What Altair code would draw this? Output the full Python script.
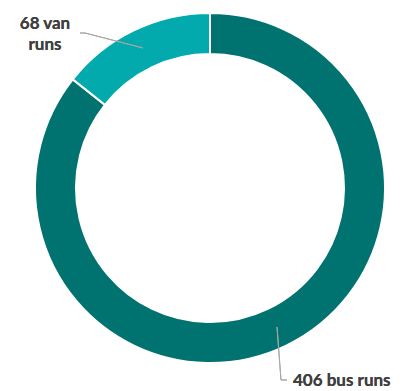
import altair as alt
import pandas as pd

categories = ["bus runs", "van runs"]
values = [406, 68]
colors = ["#007371", "#02AAAD"]
order = [0, 1]

df = pd.DataFrame({"category": categories, "value": values, "order": order})

W, H = 387, 383
CX, CY = 202, 180

arc = alt.Chart(df).mark_arc(
    outerRadius=175, innerRadius=134, stroke="white", strokeWidth=2
).encode(
    theta=alt.Theta("value:Q", stack=True),
    order=alt.Order("order:Q"),
    color=alt.Color("category:N", scale=alt.Scale(domain=categories, range=colors), legend=None),
    x=alt.value(CX),
    y=alt.value(CY),
)

label_style = dict(font="Lato", fontSize=17, fontWeight="bold", color="#404040")

van1 = alt.Chart(df).mark_text(align="center", baseline="middle", **label_style).encode(
    x=alt.value(37), y=alt.value(16), text=alt.value(f"{values[1]} van"))
van2 = alt.Chart(df).mark_text(align="center", baseline="middle", **label_style).encode(
    x=alt.value(37), y=alt.value(37), text=alt.value("runs"))
bus = alt.Chart(df).mark_text(align="left", baseline="middle", **label_style).encode(
    x=alt.value(285), y=alt.value(373), text=alt.value(f"{values[0]} bus runs"))

line_style = dict(color="#A6A6A6", strokeWidth=1)
l1 = alt.Chart(df).mark_rule(**line_style).encode(
    x=alt.value(72), x2=alt.value(77), y=alt.value(25), y2=alt.value(25))
l2 = alt.Chart(df).mark_rule(**line_style).encode(
    x=alt.value(77), x2=alt.value(135), y=alt.value(25), y2=alt.value(40))
l3 = alt.Chart(df).mark_rule(**line_style).encode(
    x=alt.value(269), x2=alt.value(273), y=alt.value(319), y2=alt.value(372))
l4 = alt.Chart(df).mark_rule(**line_style).encode(
    x=alt.value(273), x2=alt.value(279), y=alt.value(372), y2=alt.value(372))

chart = alt.layer(arc, l1, l2, l3, l4, van1, van2, bus).properties(
    width=W, height=H, padding=0,
    autosize=alt.AutoSizeParams(type="none"),
).configure_view(stroke=None)

chart.save("out.html", embed_options={"renderer": "svg", "actions": False})
